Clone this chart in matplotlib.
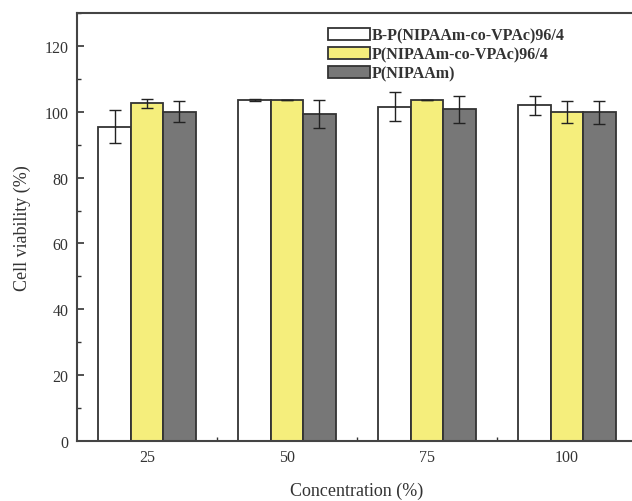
import matplotlib
matplotlib.use("Agg")
import matplotlib.pyplot as plt
import numpy as np
from matplotlib.ticker import MultipleLocator, FixedLocator

categories = ["25", "50", "75", "100"]
series_names = ["B-P(NIPAAm-co-VPAc)96/4", "P(NIPAAm-co-VPAc)96/4", "P(NIPAAm)"]
bp_vals = [95.5, 103.7, 101.6, 102.0]
bp_err = [5.0, 0.3, 4.3, 2.9]
co_vals = [102.6, 103.7, 103.7, 99.9]
co_err = [1.4, 0.0, 0.0, 3.4]
pn_vals = [100.0, 99.3, 100.7, 99.9]
pn_err = [3.2, 4.3, 4.0, 3.5]

values = [bp_vals, co_vals, pn_vals]
errors = [bp_err, co_err, pn_err]
colors = ["#ffffff", "#f5ee7c", "#777777"]

plt.rcParams['font.family'] = ['Liberation Serif', 'DejaVu Serif']

fig = plt.figure(figsize=(6.32, 5.02), dpi=100)
ax = fig.add_axes([77/632, 60/502, 560/632, 428/502])

x = np.arange(len(categories))
w = 0.232
for i, (v, e, c, n) in enumerate(zip(values, errors, colors, series_names)):
    ax.bar(x + (i - 1) * w, v, width=w, color=c, edgecolor="#333333", linewidth=1.3,
           label=n, zorder=2)
    ax.errorbar(x + (i - 1) * w, v, yerr=e, fmt="none", ecolor="#222222",
                elinewidth=1.0, capsize=4, capthick=1.0, zorder=3)

ax.set_xlim(-0.5, 3.5)
ax.set_ylim(0, 130)
ax.set_xticks(x)
ax.set_xticklabels(categories)
ax.xaxis.set_minor_locator(FixedLocator([0.5, 1.5, 2.5]))
ax.set_yticks([0, 20, 40, 60, 80, 100, 120])
ax.yaxis.set_minor_locator(MultipleLocator(10))
ax.tick_params(axis='both', which='major', direction='in', length=5, width=1.2,
               labelsize=11.5, colors="#333333", pad=6)
ax.tick_params(axis='both', which='minor', direction='in', length=3, width=1.0,
               colors="#333333")
for s in ax.spines.values():
    s.set_linewidth(1.5)
    s.set_color("#444444")

ax.set_ylabel("Cell viability (%)", fontsize=13, color="#333333", labelpad=10)
ax.set_xlabel("Concentration (%)", fontsize=13, color="#333333", labelpad=12)

leg = ax.legend(loc="upper left", bbox_to_anchor=(245/560, 1 - 8/428), frameon=False,
                prop={'weight': 'bold', 'size': 11.5}, handlelength=2.6, handleheight=0.8,
                handletextpad=0.1, labelspacing=0.2, borderaxespad=0.0)
for t in leg.get_texts():
    t.set_color("#333333")

fig.savefig("out.png", dpi=100)
